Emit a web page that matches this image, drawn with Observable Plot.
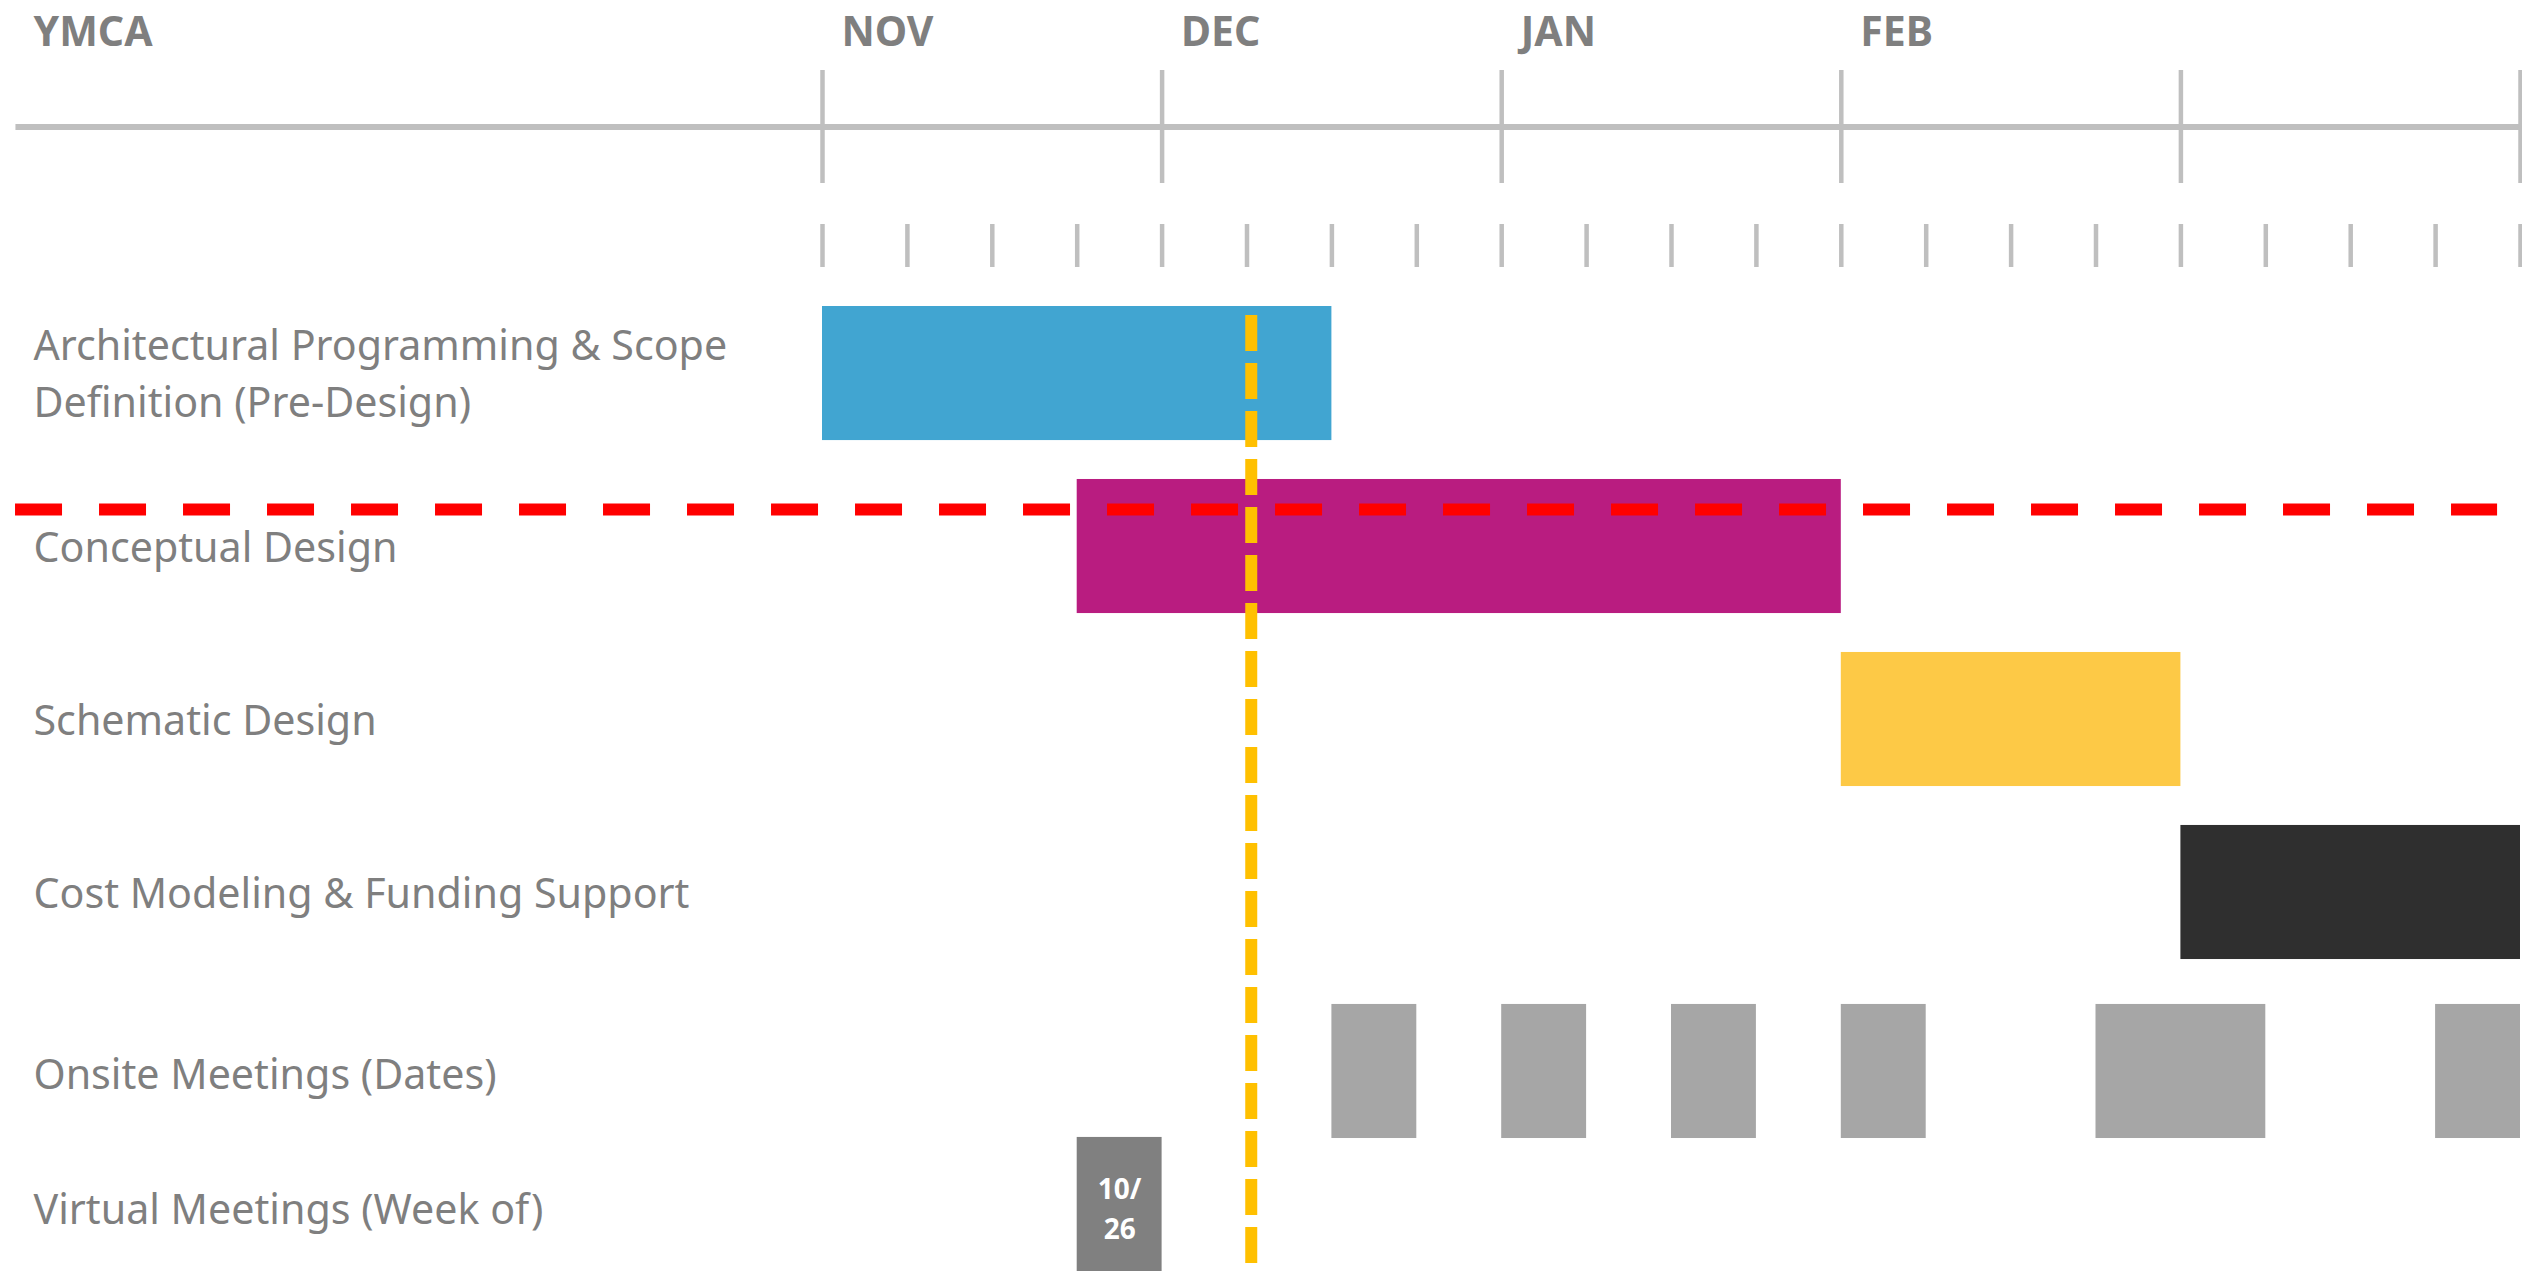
<!DOCTYPE html>
<html>
<head>
<meta charset="utf-8">
<script src="https://cdn.jsdelivr.net/npm/d3@7"></script>
<script src="https://cdn.jsdelivr.net/npm/@observablehq/plot@0.6"></script>
<style>
  html, body { margin: 0; padding: 0; background: #fff; overflow: hidden; }
  #chart svg { display: block; }
</style>
</head>
<body>
<div id="chart"></div>
<script>
// ---- data ----
const headerText = "YMCA";
const tasks = [
  "Architectural Programming & Scope Definition (Pre-Design)",
  "Conceptual Design",
  "Schematic Design",
  "Cost Modeling & Funding Support",
  "Onsite Meetings (Dates)",
  "Virtual Meetings (Week of)"
];
const taskLabels = [
  "Architectural Programming & Scope\nDefinition (Pre-Design)",
  "Conceptual Design",
  "Schematic Design",
  "Cost Modeling & Funding Support",
  "Onsite Meetings (Dates)",
  "Virtual Meetings (Week of)"
];
// phases (weeks from start of November)
const phaseTasks = tasks.slice(0, 4);
const phaseStart = [0, 3, 12, 16];
const phaseEnd = [6, 12, 16, 20];
const phaseColors = ["#41a5d1", "#b91c80", "#fdc946", "#2f2f2f"];
// onsite meetings (weeks)
const onsiteStart = [6, 8, 10, 12, 15, 19];
const onsiteEnd = [7, 9, 11, 13, 17, 20];
// virtual meetings
const virtualStart = [3];
const virtualEnd = [4];
const virtualText = ["10/\n26"];
// timeline
const monthNames = ["NOV", "DEC", "JAN", "FEB"];
const monthWeek = [0, 4, 8, 12];
const majorTicks = [0, 4, 8, 12, 16, 20];
const weekTicks = [0, 1, 2, 3, 4, 5, 6, 7, 8, 9, 10, 11, 12, 13, 14, 15, 16, 17, 18, 19, 20];
const todayWeek = [5.05];
const currentPhase = ["Conceptual Design"];
const axisLineSpan = [{x1: -9.5, x2: 20.2}];
const redLineSpan = {x1: -9.505, x2: 19.73};

// ---- derived tables ----
const phases = phaseTasks.map((t, i) => ({task: t, start: phaseStart[i], end: phaseEnd[i], color: phaseColors[i]}));
const onsite = onsiteStart.map((s, i) => ({task: tasks[4], start: s, end: onsiteEnd[i]}));
const virtual = virtualStart.map((s, i) => ({task: tasks[5], start: s, end: virtualEnd[i], text: virtualText[i]}));
const labels = tasks.map((t, i) => ({task: t, label: taskLabels[i]}));

const W = 2522, H = 1271;
const grey = "#7f7f7f";
const axisGrey = "#bfbfbf";

const chart = Plot.plot({
  width: W,
  height: H,
  margin: 0,
  x: {domain: [0, 20], range: [822, 2520], axis: null},
  y: {domain: tasks, range: [306, 1305], paddingInner: 0.225, paddingOuter: 0, round: false, axis: null},
  style: {fontFamily: "'Noto Sans', 'Open Sans', sans-serif", background: "#fff", overflow: "hidden"},
  marks: [
    // top timeline axis
    Plot.rect(axisLineSpan, {x1: "x1", x2: "x2", insetTop: 124, insetBottom: H - 130, fill: axisGrey}),
    Plot.ruleX(majorTicks, {x: d => d, stroke: axisGrey, strokeWidth: 4.5, insetTop: 70, insetBottom: H - 183}),
    Plot.ruleX(weekTicks, {x: d => d, stroke: axisGrey, strokeWidth: 4.5, insetTop: 224, insetBottom: H - 267}),
    Plot.text(monthNames, {x: (d, i) => monthWeek[i], text: d => d, frameAnchor: "top", dy: 32, dx: 19,
      textAnchor: "start", lineAnchor: "middle", fontSize: 41, fontWeight: "bold", fill: grey}),
    Plot.text([headerText], {text: d => d, frameAnchor: "top-left", dx: 33, dy: 32,
      textAnchor: "start", lineAnchor: "middle", fontSize: 41, fontWeight: "bold", fill: grey}),
    // row labels
    Plot.text(labels.slice(0, 4), {y: "task", text: "label", frameAnchor: "left", dx: 33, dy: -3,
      textAnchor: "start", lineAnchor: "middle", fontSize: 41.2, lineHeight: 1.38, fill: grey}),
    Plot.text(labels.slice(4, 5), {y: "task", text: "label", frameAnchor: "left", dx: 33, dy: 10,
      textAnchor: "start", lineAnchor: "middle", fontSize: 41.2, fill: grey}),
    Plot.text(labels.slice(5, 6), {y: "task", text: "label", frameAnchor: "left", dx: 33, dy: -28,
      textAnchor: "start", lineAnchor: "middle", fontSize: 41.2, fill: grey}),
    // phase bars
    Plot.barX(phases, {x1: "start", x2: "end", y: "task", fill: "color"}),
    // onsite meetings
    Plot.barX(onsite, {x1: "start", x2: "end", y: "task", fill: "#a6a6a6", dy: 6}),
    // virtual meetings
    Plot.barX(virtual, {x1: "start", x2: "end", y: "task", fill: "#808080", dy: -34}),
    Plot.text(virtual, {x: d => (d.start + d.end) / 2, y: "task", text: "text", dy: -32,
      fontSize: 28, fontWeight: "bold", lineHeight: 1.4, fill: "#fff"}),
    // current-phase red dashed line
    Plot.ruleY(currentPhase, {y: d => d, x1: redLineSpan.x1, x2: redLineSpan.x2, dy: -37,
      stroke: "#ff0000", strokeWidth: 12, strokeDasharray: "47,37"}),
    // today yellow dashed line
    Plot.ruleX(todayWeek, {x: d => d, insetTop: 315, stroke: "#ffc000", strokeWidth: 12, strokeDasharray: "36,12"})
  ]
});
document.getElementById("chart").appendChild(chart);
</script>
</body>
</html>
